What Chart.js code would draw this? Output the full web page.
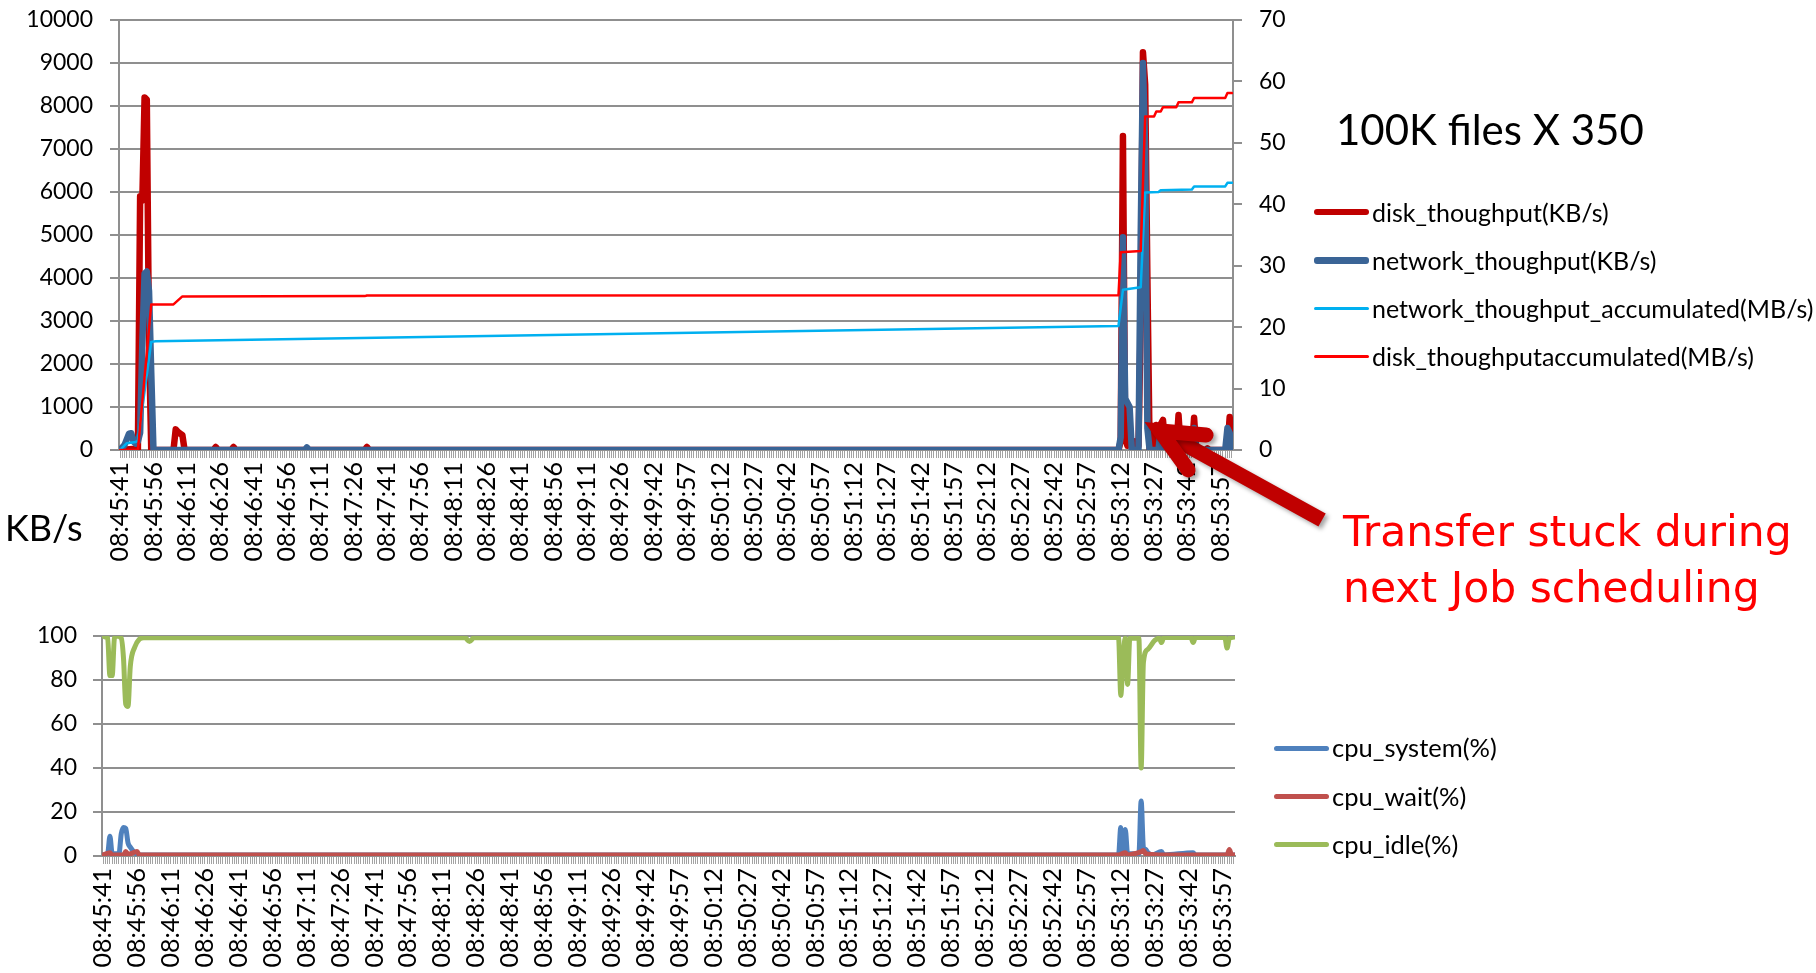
<!DOCTYPE html>
<html>
<head>
<meta charset="utf-8">
<script src="https://cdn.jsdelivr.net/npm/chart.js@4.4.0/dist/chart.umd.min.js"></script>
<style>
  html, body { margin: 0; padding: 0; background: #fff; }
  body { width: 1816px; height: 973px; position: relative; overflow: hidden; font-family: Lato, sans-serif; }
  canvas { position: absolute; left: 0; }
  #topChart { top: 0; }
  #bottomChart { top: 582px; }
  .txt { position: absolute; white-space: nowrap; line-height: 1; color: #000; }
  .swatch { position: absolute; border-radius: 3px; }
</style>
</head>
<body>
<canvas id="topChart" width="1816" height="580"></canvas>
<canvas id="bottomChart" width="1816" height="391"></canvas>

<div class="txt" style="left:1336px; top:108px; font-size:42px;">100K files X 350</div>
<div class="txt" style="left:5px; top:509px; font-size:36px;">KB/s</div>
<div class="txt" style="left:1343px; top:511px; font-size:42.5px; color:#FF0000; font-family:'DejaVu Sans', sans-serif;">Transfer stuck during</div>
<div class="txt" style="left:1343px; top:567px; font-size:42.5px; color:#FF0000; font-family:'DejaVu Sans', sans-serif;">next Job scheduling</div>
<div id="legends"></div>

<script>
// x tick labels, one every 15 samples
const tickLabels = ['08:45:41','08:45:56','08:46:11','08:46:26','08:46:41','08:46:56','08:47:11','08:47:26',
  '08:47:41','08:47:56','08:48:11','08:48:26','08:48:41','08:48:56','08:49:11','08:49:26','08:49:42','08:49:57',
  '08:50:12','08:50:27','08:50:42','08:50:57','08:51:12','08:51:27','08:51:42','08:51:57','08:52:12','08:52:27',
  '08:52:42','08:52:57','08:53:12','08:53:27','08:53:42','08:53:57'];
const sampleCount = 501;
const labelEvery = 15;

// [sample index, value]
const diskKB = [[0,0],[7,30],[8,30],[9,5900],[10,5800],[11,8200],[12,8150],[13,2500],[14,0],
  [24,0],[25,480],[26,420],[27,380],[28,350],[29,0],[42,0],[43,70],[44,0],[50,0],[51,70],[52,0],
  [110,0],[111,70],[112,0],[449,0],[450,200],[451,7300],[452,300],[453,100],[455,150],[456,200],[457,100],
  [458,100],[459,3000],[460,9250],[461,8500],[462,4000],[463,0],[465,0],[466,580],[467,500],[468,600],
  [469,700],[470,100],[471,0],[475,0],[476,815],[477,0],[482,0],[483,750],[484,0],[488,0],[489,40],[490,0],
  [498,0],[499,770],[500,100]];
const netKB = [[0,0],[2,120],[4,380],[5,390],[6,200],[7,150],[8,200],[9,400],[10,2500],[11,4100],[12,4150],
  [13,3700],[14,1800],[15,0],[83,0],[84,60],[85,0],[449,0],[450,300],[451,4950],[452,1200],[453,1100],
  [454,1000],[455,0],[458,0],[459,5000],[460,9000],[461,7000],[462,500],[463,0],[467,0],[468,510],[469,300],
  [470,0],[482,0],[483,510],[484,0],[497,0],[498,510],[499,400],[500,0]];
const netAccMB = [[0,0],[3,1.1],[7,1.3],[8,1.5],[14,17.6],[16,17.7],[449,20.2],[451,26.1],[459,26.5],
  [461,41.9],[467,42.0],[468,42.3],[482,42.4],[483,42.9],[497,42.9],[498,43.5],[500,43.5]];
const diskAccMB = [[0,0],[8,0],[14,23.7],[24,23.7],[28,25.0],[110,25.05],[111,25.15],[449,25.2],[450,32.2],
  [459,32.4],[461,54.3],[465,54.3],[466,55.1],[468,55.1],[469,55.8],[475,55.8],[476,56.6],[482,56.6],
  [483,57.3],[497,57.3],[498,58.1],[500,58.1]];

const cpuSystem = [[0,0.5],[2,1],[3,9],[4,1],[7,1],[8,10],[9,13],[10,12.5],[11,6],[12,4],[14,1.5],[16,0.5],
  [449,0.5],[450,13],[451,2],[452,12],[453,1],[458,1],[459,25],[460,4],[461,3],[462,1.5],[464,0.5],
  [468,2],[469,0.5],[482,1.5],[483,0.5],[500,0.5]];
const cpuWait = [[0,0.5],[3,1.5],[4,0.5],[9,0.5],[10,2],[11,0.8],[15,2],[16,0.5],[449,0.5],[452,1.5],
  [453,0.5],[459,2],[460,2.5],[461,1],[467,0.5],[497,0.5],[498,3],[499,0.5],[500,0.5]];
const cpuIdle = [[0,100],[1,99.5],[2,99],[3,82],[4,82],[5,99],[6,100],[8,99],[9,90],[10,69],[11,68],
  [12,86],[14,95],[16,98.5],[18,99.2],[160,99.2],[162,97.5],[164,99.2],[449,99.3],[450,73],[451,90],
  [452,99],[453,78],[454,99],[458,99],[459,40],[460,88],[462,94],[465,98],[467,99],[468,97],[469,99.3],
  [481,99.3],[482,97],[483,99.3],[496,99.3],[497,94.5],[498,99],[500,99.5]];

// where the annotation arrow points: [sample index, MB/s]
const arrowTip = [467.7, 3.1];

Chart.defaults.font.family = 'Lato, sans-serif';
Chart.defaults.color = '#000';

const gridGray = '#8f8f8f';
const toXY = pts => pts.map(([x, y]) => ({ x, y }));
const plain = v => String(v);

function xAxis(height) {
  return {
    type: 'linear',
    min: -0.5,
    max: sampleCount - 0.5,
    afterBuildTicks(scale) {
      scale.ticks = Array.from({ length: sampleCount }, (_, k) => ({ value: k }));
    },
    afterFit(scale) { scale.height = height; },
    ticks: {
      autoSkip: false,
      minRotation: 90,
      maxRotation: 90,
      padding: 4,
      font: { size: 25 },
      callback: v => (v % labelEvery === 0 ? tickLabels[v / labelEvery] : '')
    },
    grid: { drawOnChartArea: false, tickLength: 8, color: '#a3a3a3', lineWidth: 1 },
    border: { color: gridGray, width: 2 }
  };
}

// fixed width for a value axis, without the extra top/bottom room Chart.js reserves
function fixWidth(width) {
  return s => { s.width = width; s.paddingTop = 8; s.paddingBottom = 8; };
}

// thick red arrow pointing at the stalled transfer
const arrowPlugin = {
  id: 'stuckArrow',
  afterDraw(chart) {
    const ctx = chart.ctx;
    const tx = chart.scales.x.getPixelForValue(arrowTip[0]);
    const ty = chart.scales.y2.getPixelForValue(arrowTip[1]);
    ctx.save();
    ctx.strokeStyle = '#C00000';
    ctx.lineWidth = 15;
    ctx.shadowColor = 'rgba(0,0,0,0.35)';
    ctx.shadowOffsetX = 3;
    ctx.shadowOffsetY = 3;
    ctx.shadowBlur = 4;
    ctx.lineCap = 'butt';
    ctx.beginPath();
    ctx.moveTo(tx + 162, ty + 89);
    ctx.lineTo(tx + 6, ty + 3);
    ctx.stroke();
    ctx.lineCap = 'round';
    ctx.lineJoin = 'miter';
    ctx.beginPath();
    ctx.moveTo(tx + 46, ty + 4);
    ctx.lineTo(tx, ty);
    ctx.lineTo(tx + 28, ty + 39);
    ctx.stroke();
    ctx.restore();
  }
};

const topChart = new Chart(document.getElementById('topChart'), {
  type: 'line',
  data: {
    datasets: [
      { label: 'disk_thoughput(KB/s)', data: toXY(diskKB), borderColor: '#C00000', borderWidth: 6.5, yAxisID: 'y', order: 3 },
      { label: 'network_thoughput(KB/s)', data: toXY(netKB), borderColor: '#3A6496', borderWidth: 6.5, yAxisID: 'y', order: 2 },
      { label: 'network_thoughput_accumulated(MB/s)', data: toXY(netAccMB), borderColor: '#00B0F0', borderWidth: 2.5, yAxisID: 'y2', order: 1 },
      { label: 'disk_thoughputaccumulated(MB/s)', data: toXY(diskAccMB), borderColor: '#FF0000', borderWidth: 2.5, yAxisID: 'y2', order: 0 }
    ]
  },
  options: {
    responsive: false,
    animation: false,
    layout: { padding: { top: 20 } },
    elements: {
      point: { radius: 0 },
      line: { tension: 0, borderJoinStyle: 'round', borderCapStyle: 'round' }
    },
    plugins: { legend: { display: false }, tooltip: { enabled: false } },
    scales: {
      x: xAxis(130),
      y: {
        position: 'left', min: 0, max: 10000,
        afterFit: fixWidth(119),
        ticks: { stepSize: 1000, padding: 17, font: { size: 23 }, callback: plain },
        grid: { color: gridGray, lineWidth: 2, tickLength: 9 },
        border: { color: gridGray, width: 2 }
      },
      y2: {
        position: 'right', min: 0, max: 70,
        afterFit: fixWidth(1816 - 1233),
        ticks: { stepSize: 10, padding: 17, font: { size: 23 }, callback: plain },
        grid: { drawOnChartArea: false, color: gridGray, lineWidth: 2, tickLength: 9 },
        border: { color: gridGray, width: 2 }
      }
    }
  },
  plugins: [arrowPlugin]
});

const bottomChart = new Chart(document.getElementById('bottomChart'), {
  type: 'line',
  data: {
    datasets: [
      { label: 'cpu_system(%)', data: toXY(cpuSystem), borderColor: '#4F81BD', borderWidth: 5, order: 2 },
      { label: 'cpu_wait(%)', data: toXY(cpuWait), borderColor: '#C0504D', borderWidth: 5, order: 1 },
      { label: 'cpu_idle(%)', data: toXY(cpuIdle), borderColor: '#9BBB59', borderWidth: 5, order: 0 }
    ]
  },
  options: {
    responsive: false,
    animation: false,
    layout: { padding: { top: 54, right: 1816 - 1235 } },
    elements: {
      point: { radius: 0 },
      line: { cubicInterpolationMode: 'monotone', borderJoinStyle: 'round', borderCapStyle: 'round' }
    },
    plugins: { legend: { display: false }, tooltip: { enabled: false } },
    scales: {
      x: xAxis(117),
      y: {
        position: 'left', min: 0, max: 100,
        afterFit: fixWidth(102),
        ticks: { stepSize: 20, padding: 16, font: { size: 23 }, callback: plain },
        grid: { color: gridGray, lineWidth: 2, tickLength: 9 },
        border: { color: gridGray, width: 2 }
      }
    }
  }
});

// legends built from the chart datasets
function buildLegend(chart, left, textLeft, firstY, gap, fontSize) {
  const box = document.getElementById('legends');
  chart.data.datasets.forEach((ds, i) => {
    const cy = firstY + i * gap;
    const h = ds.borderWidth >= 5 ? ds.borderWidth : 3;
    const sw = document.createElement('div');
    sw.className = 'swatch';
    sw.style.cssText = `left:${left}px; top:${cy - h / 2}px; width:${textLeft - left - 3}px; height:${h}px; background:${ds.borderColor};`;
    box.appendChild(sw);
    const t = document.createElement('div');
    t.className = 'txt';
    t.style.cssText = `left:${textLeft}px; top:${cy - fontSize / 2}px; font-size:${fontSize}px;`;
    t.textContent = ds.label;
    box.appendChild(t);
  });
}
buildLegend(topChart, 1314, 1372, 212, 48.3, 25);
buildLegend(bottomChart, 1274, 1332, 748, 48.3, 25.5);
</script>
</body>
</html>
